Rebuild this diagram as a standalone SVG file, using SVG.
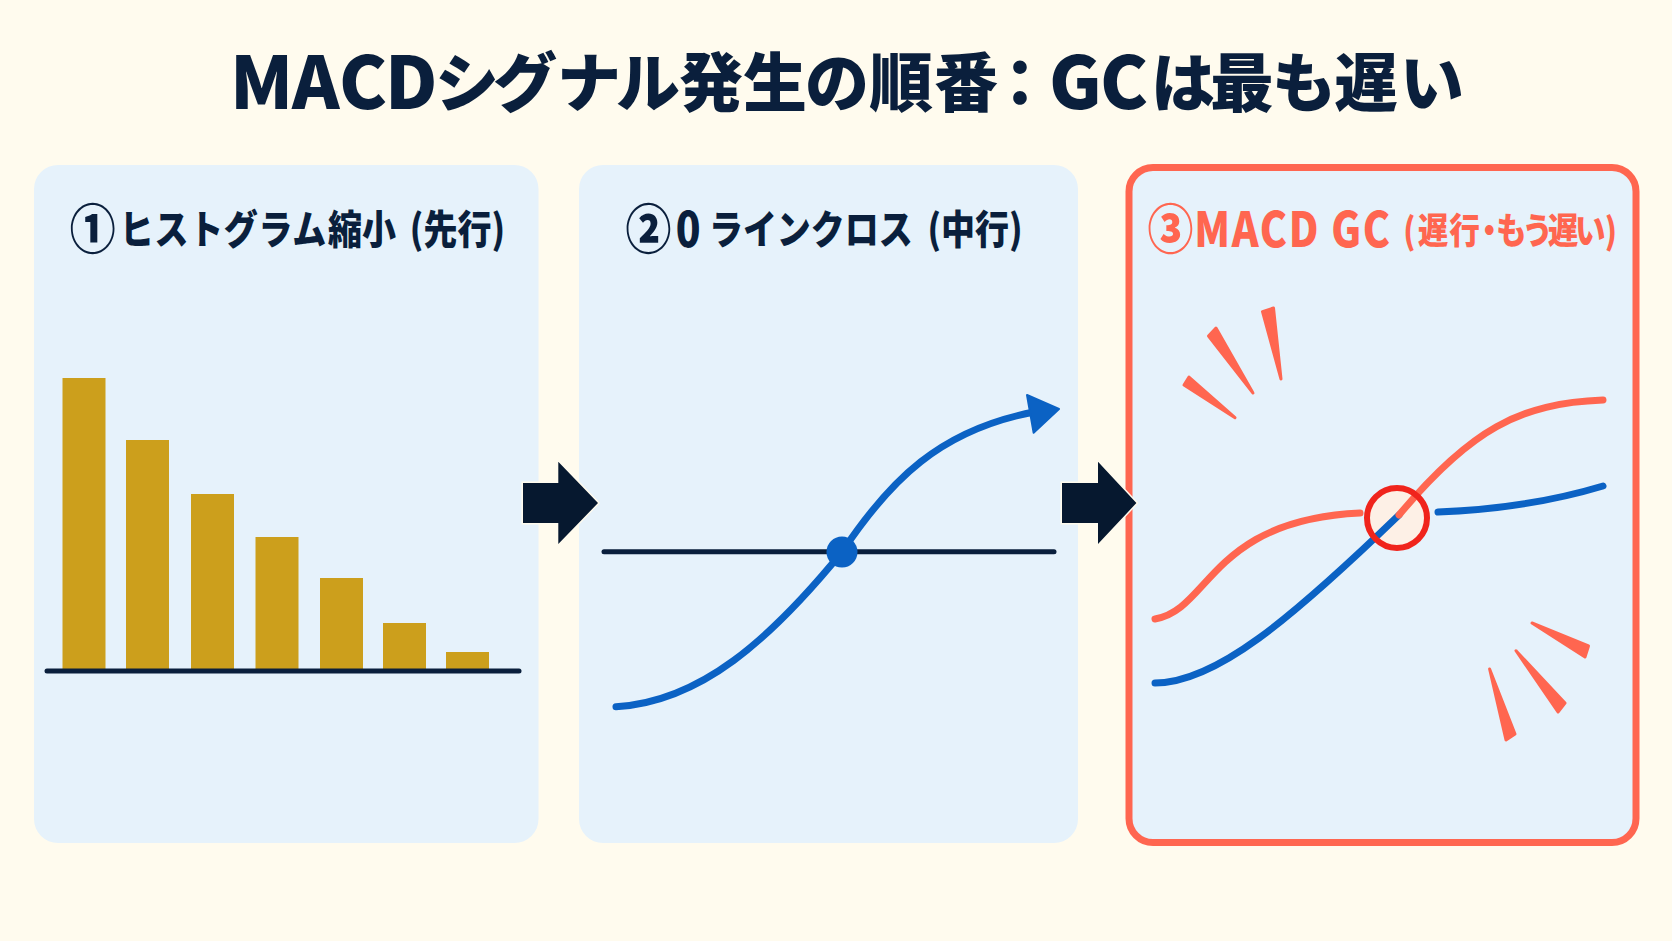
<svg xmlns="http://www.w3.org/2000/svg" width="1672" height="941" viewBox="0 0 1672 941">
<style>
text{font-family:"Noto Sans CJK JP","Noto Sans",sans-serif;font-weight:900;fill:#0a1f3c}
.h{font-size:40px}
.n{font-size:54px}
.panel{fill:#e6f2fb}
.bar{fill:#cc9f1c}
.blue{fill:none;stroke:#0b62c4;stroke-width:7;stroke-linecap:round}
.red{fill:none;stroke:#ff6650;stroke-width:7;stroke-linecap:round}
.ink{fill:none;stroke:#0a1f3c;stroke-width:5;stroke-linecap:round}
.ray{fill:#ff6650;stroke:#ff6650;stroke-width:3;stroke-linejoin:round}
.arrow{fill:#06182f;stroke:#fffbee;stroke-width:3;paint-order:stroke}
.rt{fill:#ff6650}
</style>
<rect width="1672" height="941" fill="#fffbee"/>
<text id="title" y="106" font-size="64"><tspan x="230 292 339 385" y="109" font-size="72">MACD</tspan><tspan x="435 493 557 616 679 743 805 869 934 988" y="106">シグナル発生の順番：</tspan><tspan x="1049 1100" y="109" font-size="72">GC</tspan><tspan x="1151 1210 1272 1334 1400" y="106">は最も遅い</tspan></text>
<g id="panel1">
<rect class="panel" x="34" y="165" width="504.500" height="678" rx="24"/>
<text class="h" transform="translate(0 244) scale(.85 1)"><tspan class="n" x="82" y="5">①</tspan><tspan x="141" y="0" letter-spacing=".8">ヒストグラム</tspan><tspan x="386 426">縮小</tspan><tspan x="473"> (先行)</tspan></text>
<rect class="bar" x="62.500" y="378" width="43" height="291"/>
<rect class="bar" x="126" y="440" width="43" height="229"/>
<rect class="bar" x="191" y="494" width="43" height="175"/>
<rect class="bar" x="255.500" y="537" width="43" height="132"/>
<rect class="bar" x="320" y="578" width="43" height="91"/>
<rect class="bar" x="383" y="623" width="43" height="46"/>
<rect class="bar" x="446" y="652" width="43" height="17"/>
<path class="ink" d="M47 671H519"/>
</g>
<g id="panel2">
<rect class="panel" x="579" y="165" width="499" height="678" rx="24"/>
<text class="h" transform="translate(0 244) scale(.85 1)"><tspan class="n" x="736" y="5">②</tspan><tspan x="795" y="3" font-size="48">0</tspan><tspan x="834" y="0">ラインクロス</tspan><tspan x="1082"> (中行)</tspan></text>
<path class="ink" d="M604 551.700H1054"/>
<path class="blue" d="M616 706.700C700 702 770 640 842 552C890 480 940 430 1034 412"/>
<path d="M1027 395L1059 409L1033.600 432.700Z" fill="#0b62c4" stroke="#0b62c4" stroke-width="2" stroke-linejoin="round"/>
<circle cx="842" cy="552" r="15.500" fill="#0b62c4"/>
</g>
<g id="panel3">
<rect x="1129" y="167.500" width="507" height="675" rx="24" fill="#e6f2fb" stroke="#ff6650" stroke-width="7"/>
<text class="h rt" transform="translate(0 244) scale(.85 1)"><tspan class="n rt" x="1350" y="5">③</tspan><tspan x="1405" y="3" font-size="48" letter-spacing="2">MACD GC</tspan><tspan x="1640 1651 1668 1705 1734 1760 1791 1821 1853 1888" y="0" font-size="36"> (遅行・もう遅い)</tspan></text>
<path class="ray" d="M1235 417.700L1184 385L1189 377Z"/>
<path class="ray" d="M1253 393L1208.500 336L1216 328Z"/>
<path class="ray" d="M1281 379L1262.500 311.700L1273.500 308Z"/>
<path class="ray" d="M1532 623L1588.500 646L1585 657Z"/>
<path class="ray" d="M1516 650.700L1565 703L1558 712Z"/>
<path class="ray" d="M1489.600 669L1515 734L1506 740Z"/>
<circle cx="1397" cy="518" r="30" fill="#fdf0e6"/>
<path class="blue" d="M1155 683C1215 683 1290 620 1399 515"/>
<path class="red" d="M1155 619C1210 610 1210 520 1360 513"/>
<path class="red" d="M1399 515C1470 430 1520 403 1603 400"/>
<path class="blue" d="M1438 512C1490 510 1550 502 1603 486"/>
<circle cx="1397" cy="518" r="30" fill="none" stroke="#f0241c" stroke-width="6"/>
</g>
<g id="connectors">
<path class="arrow" d="M523 483H558.300V461.700L598 503L558.300 544V523H523Z"/>
<path class="arrow" d="M1062 483H1098V461.700L1136.400 503L1098 544V523H1062Z"/>
</g>
</svg>
